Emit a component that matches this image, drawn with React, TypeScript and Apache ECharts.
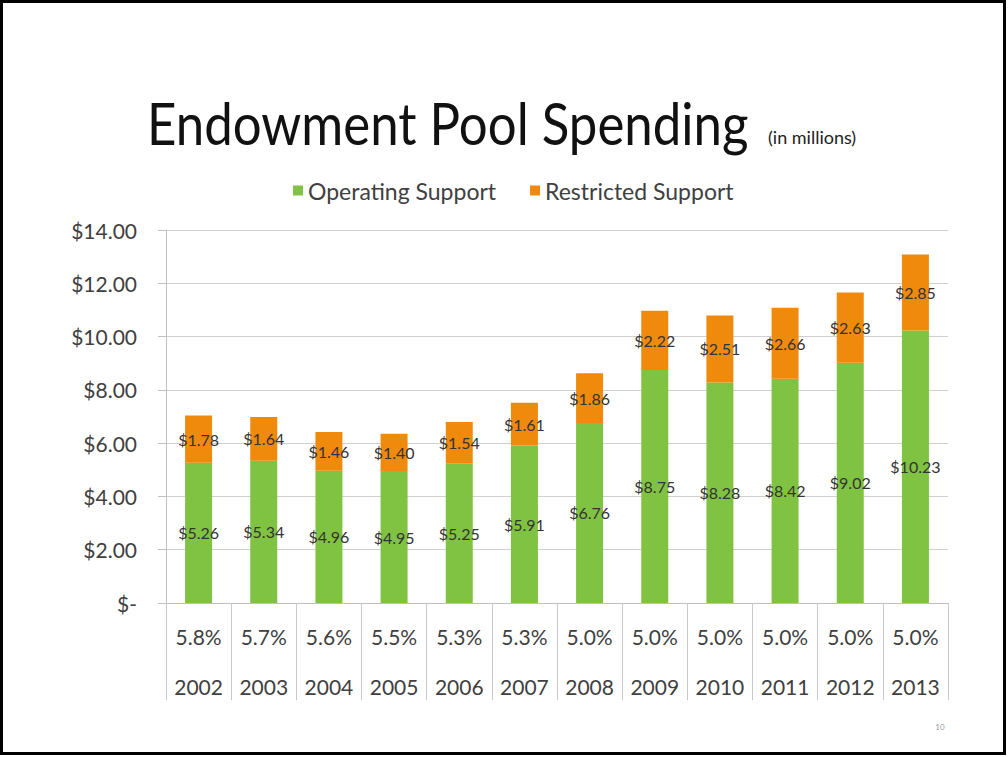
import React, { useEffect, useRef } from "react";
import * as echarts from "echarts";

const years = ["2002", "2003", "2004", "2005", "2006", "2007", "2008", "2009", "2010", "2011", "2012", "2013"];
const rates = ["5.8%", "5.7%", "5.6%", "5.5%", "5.3%", "5.3%", "5.0%", "5.0%", "5.0%", "5.0%", "5.0%", "5.0%"];
const operating = [5.26, 5.34, 4.96, 4.95, 5.25, 5.91, 6.76, 8.75, 8.28, 8.42, 9.02, 10.23];
const restricted = [1.78, 1.64, 1.46, 1.4, 1.54, 1.61, 1.86, 2.22, 2.51, 2.66, 2.63, 2.85];
const yTicks = [0, 2, 4, 6, 8, 10, 12, 14];

const FONT = "Lato, 'Open Sans', sans-serif";
const GREEN = "#80c342";
const ORANGE = "#f08a0c";
const TEXT = "#404040";

export default function App() {
  const ref = useRef<HTMLDivElement>(null);
  useEffect(() => {
    if (!ref.current) return;
    const chart = echarts.init(ref.current, undefined, { renderer: "svg" });
    const labelFmt = (p: any) => "$" + Number(p.value).toFixed(2);
    chart.setOption({
      animation: false,
      backgroundColor: "#ffffff",
      textStyle: { fontFamily: FONT },
      legend: {
        left: 288,
        top: 174,
        itemWidth: 10,
        itemHeight: 10,
        itemGap: 34,
        icon: "rect",
        textStyle: { fontFamily: FONT, fontSize: 23, color: TEXT },
        data: ["Operating Support", "Restricted Support"],
      },
      grid: { left: 166, right: 60, top: 230, bottom: 154, containLabel: false },
      xAxis: {
        type: "category",
        data: years,
        boundaryGap: true,
        axisLine: { lineStyle: { color: "#bfbfbf", width: 1 } },
        axisTick: { show: true, interval: 0, length: 97, lineStyle: { color: "#c8c8c8" } },
        axisLabel: {
          interval: 0,
          margin: 8,
          formatter: (v: string, i: number) => `{p|${rates[i]}}\n{y|${v}}`,
          rich: {
            p: { fontFamily: FONT, fontSize: 21, color: TEXT, lineHeight: 50 },
            y: { fontFamily: FONT, fontSize: 21, color: TEXT, lineHeight: 50 },
          },
        },
      },
      yAxis: {
        type: "value",
        min: yTicks[0],
        max: yTicks[yTicks.length - 1],
        interval: 2,
        axisLine: { show: true, lineStyle: { color: "#bfbfbf" } },
        axisTick: { show: true, length: 8, inside: false, lineStyle: { color: "#bfbfbf" } },
        splitLine: { lineStyle: { color: "#d0d0d0" } },
        axisLabel: {
          margin: 29,
          fontFamily: FONT,
          fontSize: 21,
          color: TEXT,
          formatter: (v: number) => (v === 0 ? "$-" : "$" + v.toFixed(2)),
        },
      },
      series: [
        {
          name: "Operating Support",
          type: "bar",
          stack: "total",
          data: operating,
          barWidth: 27,
          itemStyle: { color: GREEN },
          label: { show: true, position: "inside", formatter: labelFmt, fontFamily: FONT, fontSize: 16, color: "#333333" },
        },
        {
          name: "Restricted Support",
          type: "bar",
          stack: "total",
          data: restricted,
          barWidth: 27,
          itemStyle: { color: ORANGE },
          label: { show: true, position: "inside", formatter: labelFmt, fontFamily: FONT, fontSize: 16, color: "#333333" },
        },
      ],
      graphic: [
        {
          type: "rect",
          shape: { x: 1.5, y: 1.5, width: 1003, height: 752 },
          style: { fill: "none", stroke: "#000000", lineWidth: 3 },
          silent: true,
        },
        {
          type: "text",
          x: 147,
          y: 152,
          scaleY: 1.15,
          style: { text: "Endowment Pool Spending", fontFamily: FONT, fontSize: 51, fill: "#111111", textVerticalAlign: "bottom" },
        },
        {
          type: "text",
          x: 768,
          y: 146,
          style: { text: "(in millions)", fontFamily: FONT, fontSize: 18, fill: "#222222", textVerticalAlign: "bottom" },
        },
        {
          type: "text",
          x: 940,
          y: 727,
          style: { text: "10", fontFamily: FONT, fontSize: 8, fill: "#999999", textAlign: "center", textVerticalAlign: "middle" },
        },
      ],
    });
    return () => chart.dispose();
  }, []);
  return (
    <div style={{ position: "fixed", left: 0, top: 0, width: 1008, height: 757, background: "#fff" }}>
      <div ref={ref} style={{ width: 1008, height: 757 }} />
    </div>
  );
}
